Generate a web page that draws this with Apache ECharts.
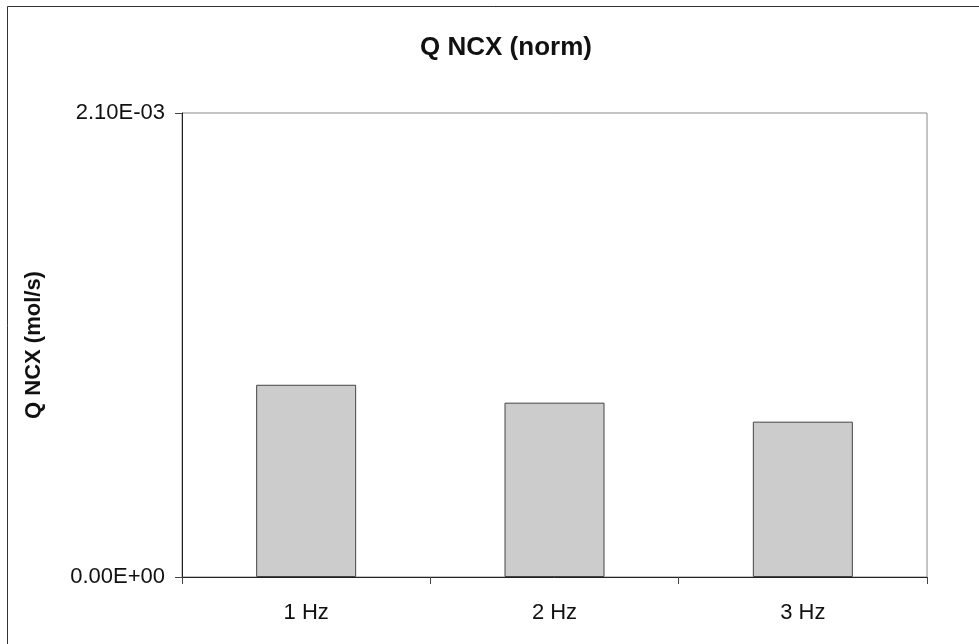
<!DOCTYPE html>
<html>
<head>
<meta charset="utf-8">
<script src="https://cdn.jsdelivr.net/npm/echarts@6/dist/echarts.min.js"></script>
<style>
  html, body { margin: 0; padding: 0; background: #fff; }
  #main { width: 979px; height: 644px; }
</style>
</head>
<body>
<div id="main"></div>
<script>
// data
var categories = ['1 Hz', '2 Hz', '3 Hz'];
var qncx = [0.870e-3, 0.789e-3, 0.703e-3];
var yMin = 0, yMax = 2.1e-3;

// 2.1e-3 -> "2.10E-03"
function sciLabel(v) {
    var s = Number(v).toExponential(2).split('e');
    var exp = parseInt(s[1], 10);
    var sign = exp < 0 ? '-' : '+';
    exp = Math.abs(exp);
    return s[0] + 'E' + sign + (exp < 10 ? '0' + exp : exp);
}

var myChart = echarts.init(document.getElementById('main'));

var option = {
    backgroundColor: '#fff',
    textStyle: { fontFamily: 'Liberation Sans, Arial, sans-serif', color: '#111' },
    title: {
        text: 'Q NCX (norm)',
        left: 501,
        textAlign: 'center',
        top: 30,
        textStyle: { fontSize: 26, fontWeight: 'bold', color: '#111', fontFamily: 'Liberation Sans, Arial, sans-serif' }
    },
    graphic: [{
        type: 'rect',
        shape: { x: 7.5, y: 6.5, width: 1000, height: 700 },
        style: { fill: 'none', stroke: '#333', lineWidth: 1 },
        silent: true
    }],
    grid: {
        left: 182, right: 52, top: 113, bottom: 67,
        show: true, borderColor: '#888', borderWidth: 1
    },
    xAxis: {
        type: 'category',
        data: categories,
        axisLine: { lineStyle: { color: '#222', width: 1 } },
        axisTick: { show: true, length: 7, alignWithLabel: false, lineStyle: { color: '#444' } },
        axisLabel: { fontSize: 22, color: '#111', margin: 25 }
    },
    yAxis: {
        type: 'value',
        min: yMin,
        max: yMax,
        interval: 2.1e-3,
        name: 'Q NCX (mol/s)',
        nameLocation: 'middle',
        nameGap: 137,
        nameTextStyle: { fontSize: 22, fontWeight: 'bold', color: '#111' },
        axisLine: { show: true, lineStyle: { color: '#222', width: 1 } },
        axisTick: { show: true, length: 7, lineStyle: { color: '#444' } },
        splitLine: { show: false },
        axisLabel: { fontSize: 22, color: '#111', margin: 17, formatter: sciLabel }
    },
    series: [{
        name: 'Q NCX',
        type: 'bar',
        data: qncx,
        barWidth: 100,
        itemStyle: { color: '#cccccc', borderColor: '#444', borderWidth: 1 }
    }]
};

myChart.setOption(option);
</script>
</body>
</html>
